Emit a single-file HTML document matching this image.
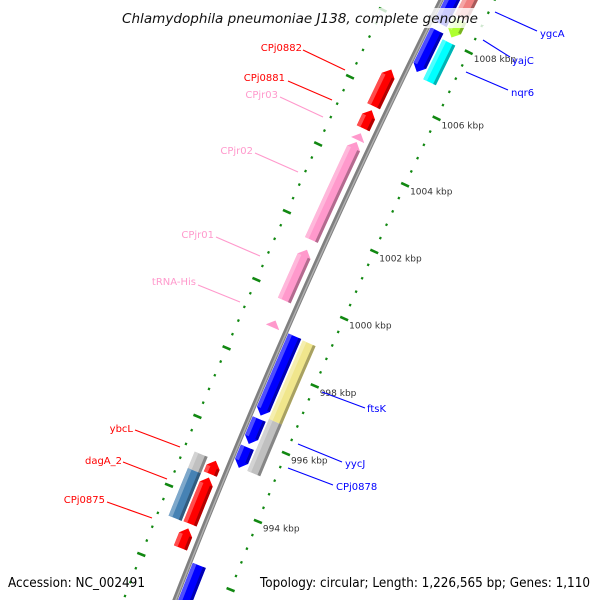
<!DOCTYPE html>
<html><head><meta charset="utf-8"><style>
html,body{margin:0;padding:0;background:#fff;overflow:hidden}
svg{display:block;font-family:"DejaVu Sans","Liberation Sans",sans-serif}
</style></head><body>
<svg id="map" width="600" height="600" viewBox="0 0 600 600" xmlns="http://www.w3.org/2000/svg">
<rect x="0" y="0" width="600" height="600" fill="#fff"/>
<g id="tracks"></g>
<g id="backbone"></g>
<g id="features"></g>
<g id="labels"></g>
<rect x="117" y="8" width="366" height="20" fill="#fff" fill-opacity="0.8"/>
<text x="300" y="23" text-anchor="middle" font-size="13.5" font-style="italic" fill="#111" textLength="356" lengthAdjust="spacingAndGlyphs">Chlamydophila pneumoniae J138, complete genome</text>
<text x="8" y="587" font-size="13" fill="#000" textLength="137" lengthAdjust="spacingAndGlyphs">Accession: NC_002491</text>
<text x="590" y="587" font-size="13" fill="#000" text-anchor="end" textLength="330" lengthAdjust="spacingAndGlyphs">Topology: circular; Length: 1,226,565 bp; Genes: 1,110</text>
</svg>
<script>
// ---- data (kbp) ----
const featStart  = [1008.35,1008.75,1008.15,1006.9,1006.8,996.68,995.85,995.15,996.68,995.16,990.0,
                    1005.56,1004.9,1004.55,1001.58,999.79,999.0,994.62,993.24,994.7,993.25,992.55,988.5];
const featEnd    = [1010.6,1010.6,1008.68,1008.15,1008.0,999.02,996.58,995.75,999.0,996.68,992.3,
                    1006.66,1005.44,1004.75,1004.49,1001.29,999.2,995.1,994.62,995.09,994.6,993.12,990.75];
const featStrand = [0,0,-1,-1,0,-1,-1,-1,0,0,0, 1,1,1,1,1,1,0,0,1,1,1,0];
const featSide   = ["R","R","R","R","R","R","R","R","R","R","R", "L","L","L","L","L","L","L","L","L","L","L","L"];
const featLane   = [0,1,1,0,1,0,0,0,1,1,0, 0,0,0,0,0,0,1,1,0,0,0,1];
const featColor  = ["#0000ff","#f08080","#adff2f","#0000ff","#00ffff","#0000ff","#0000ff","#0000ff","#f0e68c","#c0c0c0","#0000ff",
                    "#ff0000","#ff0000","#ff99cc","#ff99cc","#ff99cc","#ff99cc","#c0c0c0","#4682b4","#ff0000","#ff0000","#ff0000","#0000ff"];
const majorTicks = [994,996,998,1000,1002,1004,1006,1008];
const tickLabels = ["994 kbp","996 kbp","998 kbp","1000 kbp","1002 kbp","1004 kbp","1006 kbp","1008 kbp"];
const labelNames = ["ygcA","yajC","nqr6","ftsK","yycJ","CPj0878","CPj0882","CPj0881","CPjr03","CPjr02","CPjr01","tRNA-His","ybcL","dagA_2","CPj0875"];
const labelColors= ["#0000ff","#0000ff","#0000ff","#0000ff","#0000ff","#0000ff","#ff0000","#ff0000","#ff99cc","#ff99cc","#ff99cc","#ff99cc","#ff0000","#ff0000","#ff0000"];

// ---- geometry ----
const NS="http://www.w3.org/2000/svg";
const CX=6903, CY=3225, A0=23.9, DEG=360/1226.565;
const R_BACK=7222, R_TICK_R=7174, R_TICK_L=7270;
function pt(k,r){const a=(A0+(k-1000)*DEG)*Math.PI/180;return [CX-r*Math.cos(a), CY-r*Math.sin(a)];}
function laneR(side,lane){ if(side==="R") return lane===0?[7205,7219]:[7189,7203]; return lane===0?[7229,7243]:[7245,7259]; }
function mk(tag,attrs,parent){const e=document.createElementNS(NS,tag);for(const a in attrs)e.setAttribute(a,attrs[a]);parent.appendChild(e);return e;}
function arcPts(k1,k2,r,n){const p=[];for(let i=0;i<=n;i++){p.push(pt(k1+(k2-k1)*i/n,r));}return p;}
function fmt(p){return p.map(q=>q[0].toFixed(2)+","+q[1].toFixed(2)).join(" ");}
function shade(hex,f){const n=parseInt(hex.slice(1),16);let r=n>>16,g=(n>>8)&255,b=n&255;
  if(f<0){r*=1+f;g*=1+f;b*=1+f;}else{r+=(255-r)*f;g+=(255-g)*f;b+=(255-b)*f;}
  return "rgb("+Math.round(r)+","+Math.round(g)+","+Math.round(b)+")";}

// tick tracks
const tracks=document.getElementById("tracks");
[[R_TICK_R,"right"],[R_TICK_L,"left"]].forEach(([rt,side])=>{
  for(let i=0;i<=58;i++){
    const kk=Math.round((988+i*0.4)*10)/10;
    const major=Math.abs(kk/2-Math.round(kk/2))<1e-6;
    const h=major?4.3:1.1;
    const a=pt(kk,rt-h), b=pt(kk,rt+h);
    const l=mk("line",{x1:a[0],y1:a[1],x2:b[0],y2:b[1],stroke:"#118811","stroke-width":major?2.6:2.4},tracks);
    
    
  }
});
majorTicks.forEach((k,i)=>{
  const p=pt(k,R_TICK_R);
  const t=mk("text",{x:p[0]+5,y:p[1]+10,"font-size":"9",fill:"#333"},tracks);
  t.textContent=tickLabels[i];
  
  
});

// backbone
const bb=document.getElementById("backbone");
const bpath=mk("polyline",{points:fmt(arcPts(986,1011,R_BACK,40)),fill:"none",stroke:"#808080","stroke-width":5},bb);


const bhl=mk("polyline",{points:fmt(arcPts(986,1011,R_BACK-0.8,40)),fill:"none",stroke:"#b0b0b0","stroke-width":1.4},bb);



// features
const fg=document.getElementById("features");
const AH=0.19;
featStart.forEach((s,i)=>{
  const e=featEnd[i], st=featStrand[i], col=featColor[i];
  const [r1,r2]=laneR(featSide[i],featLane[i]); const rm=(r1+r2)/2;
  let pts, bs=s, be=e;
  if(st===1){ be=Math.max(s,e-AH); pts=arcPts(s,be,r1,6).concat([pt(e,rm)]).concat(arcPts(be,s,r2,6)); }
  else if(st===-1){ bs=Math.min(e,s+AH); pts=arcPts(bs,e,r1,6).concat(arcPts(e,bs,r2,6)).concat([pt(s,rm)]); }
  else { pts=arcPts(s,e,r1,6).concat(arcPts(e,s,r2,6)); }
  const g=mk("g",{},fg);
  
  
  mk("polygon",{points:fmt(pts),fill:col},g);
  if(be-bs>0.05){
    mk("polygon",{points:fmt(arcPts(bs,be,r1,6).concat(arcPts(be,bs,r1+3,6))),fill:shade(col,-0.3)},g);
    mk("polygon",{points:fmt(arcPts(bs,be,r2-4,6).concat(arcPts(be,bs,r2,6))),fill:shade(col,0.3)},g);
  }
});

// labels (annotation positions)
const labelPos = [[540,37,"start",495,12,537,31],[512,64,"start",483,40,510,57],[511,96,"start",466,72,508,90],
  [367,412,"start",322,392,365,408],[345,467,"start",298,444,342,462],[336,490,"start",288,468,333,485],
  [302,51,"end",303,50,345,70],[285,81,"end",288,81,332,100],[278,98,"end",280,97,323,117],
  [253,154,"end",255,153,298,172],[214,238,"end",216,237,260,256],[196,285,"end",198,285,240,302],
  [133,432,"end",135,430,180,447],[122,464,"end",123,462,167,479],[105,503,"end",107,502,152,518]];
const lg=document.getElementById("labels");
labelNames.forEach((nm,i)=>{
  const p=labelPos[i];
  const g=mk("g",{},lg);
  
  
  mk("line",{x1:p[3],y1:p[4],x2:p[5],y2:p[6],stroke:labelColors[i],"stroke-width":1.1},g);
  const t=mk("text",{x:p[0],y:p[1],"font-size":"10",fill:labelColors[i],"text-anchor":p[2]},g);
  t.textContent=nm;
});
</script>
</body></html>
